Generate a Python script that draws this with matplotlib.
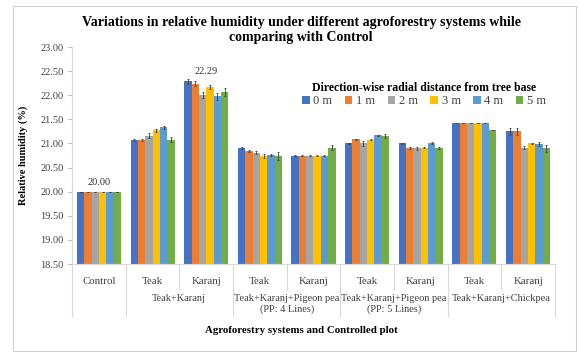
import matplotlib
matplotlib.use("Agg")
import matplotlib.pyplot as plt
import matplotlib.transforms as mtransforms
from matplotlib.patches import Rectangle
import numpy as np

plt.rcParams['font.family'] = ['Liberation Serif', 'DejaVu Serif']

# Sub-plot labels (level 1) and system labels (level 2)
categories = ["Control", "Teak", "Karanj", "Teak", "Karanj", "Teak", "Karanj", "Teak", "Karanj"]
systems = ["", "Teak+Karanj", "Teak+Karanj+Pigeon pea\n(PP: 4 Lines)",
           "Teak+Karanj+Pigeon pea\n(PP: 5 Lines)", "Teak+Karanj+Chickpea"]
system_spans = [(0, 0), (1, 2), (3, 4), (5, 6), (7, 8)]

distances = ["0 m", "1 m", "2 m", "3 m", "4 m", "5 m"]

# Relative humidity (%) per distance, one value per category
rh_0m = [20.00, 21.08, 22.29, 20.91, 20.75, 21.00, 21.00, 21.42, 21.25]
rh_1m = [20.00, 21.08, 22.24, 20.84, 20.75, 21.09, 20.91, 21.42, 21.25]
rh_2m = [20.00, 21.16, 22.00, 20.81, 20.75, 21.00, 20.90, 21.42, 20.91]
rh_3m = [20.00, 21.27, 22.17, 20.74, 20.75, 21.08, 20.91, 21.42, 21.00]
rh_4m = [20.00, 21.34, 21.98, 20.77, 20.75, 21.17, 21.00, 21.42, 20.99]
rh_5m = [20.00, 21.08, 22.07, 20.74, 20.91, 21.16, 20.91, 21.27, 20.90]

# Standard errors
se_0m = [0.00, 0.02, 0.05, 0.02, 0.01, 0.01, 0.01, 0.00, 0.08]
se_1m = [0.00, 0.02, 0.05, 0.02, 0.01, 0.01, 0.02, 0.00, 0.07]
se_2m = [0.00, 0.05, 0.06, 0.03, 0.01, 0.05, 0.03, 0.00, 0.03]
se_3m = [0.00, 0.03, 0.04, 0.04, 0.01, 0.01, 0.01, 0.00, 0.01]
se_4m = [0.00, 0.03, 0.07, 0.02, 0.01, 0.01, 0.02, 0.00, 0.05]
se_5m = [0.00, 0.05, 0.08, 0.08, 0.05, 0.04, 0.02, 0.00, 0.07]

series = [rh_0m, rh_1m, rh_2m, rh_3m, rh_4m, rh_5m]
errors = [se_0m, se_1m, se_2m, se_3m, se_4m, se_5m]
colors = ["#4472C4", "#ED7D31", "#A5A5A5", "#FFC000", "#5B9BD5", "#70AD47"]

fig = plt.figure(figsize=(5.79, 3.54), dpi=100)
fig.patches.append(Rectangle((0.022, 0.008), 0.972, 0.975, transform=fig.transFigure,
                             facecolor="white", edgecolor="#d0d0d0", linewidth=0.8, zorder=-10))

ax = fig.add_axes([0.1244, 0.2542, 0.8341, 0.6130])
ax.set_facecolor("none")

n = len(series)
x = np.arange(len(categories))
group_w = 0.82
bw = group_w / n
for i, (vals, err, c, lab) in enumerate(zip(series, errors, colors, distances)):
    pos = x - group_w / 2 + bw * (i + 0.5)
    ax.bar(pos, np.array(vals) - 18.5, bottom=18.5, width=bw, color=c, label=lab,
           yerr=err, error_kw=dict(ecolor="#404040", elinewidth=0.6, capsize=1.0, capthick=0.6),
           zorder=2)

# Value labels for the control and the Teak+Karanj Karanj highest reading
ax.text(x[0], rh_0m[0] + 0.1, f"{rh_0m[0]:.2f}", ha="center", va="bottom", fontsize=7.5, color="#333333")
ax.text(x[2], rh_0m[2] + 0.1, f"{rh_0m[2]:.2f}", ha="center", va="bottom", fontsize=7.5, color="#333333")

ax.set_ylim(18.5, 23.0)
ax.set_xlim(-0.5, len(categories) - 0.5)
ax.set_yticks(np.arange(18.5, 23.01, 0.5))
ax.set_yticklabels([f"{v:.2f}" for v in np.arange(18.5, 23.01, 0.5)], fontsize=7.5, color="#404040")
ax.tick_params(axis="y", length=3, color="#bfbfbf", pad=3)
ax.set_xticks(x)
ax.set_xticklabels(categories, fontsize=7.8, color="#404040")
ax.tick_params(axis="x", length=0, pad=9)
for s in ["top", "right"]:
    ax.spines[s].set_visible(False)
ax.spines["left"].set_color("#d9d9d9")
ax.spines["bottom"].set_color("#d9d9d9")
ax.spines["left"].set_linewidth(0.8)
ax.spines["bottom"].set_linewidth(0.8)

# Multi-level category axis separators and group labels
trans = mtransforms.blended_transform_factory(ax.transData, ax.transAxes)
short_y = -0.115
long_y = -0.24
bounds = [i - 0.5 for i in range(len(categories) + 1)]
long_bounds = {-0.5, 0.5, 2.5, 4.5, 6.5, 8.5}
for b in bounds:
    yb = long_y if b in long_bounds else short_y
    ax.plot([b, b], [0, yb], transform=trans, clip_on=False, color="#d9d9d9", lw=0.8)
for name, (a, b) in zip(systems, system_spans):
    if name:
        ax.text((a + b) / 2, -0.138, name, transform=trans, ha="center", va="top",
                fontsize=7.5, color="#404040", linespacing=1.2)

ax.set_ylabel("Relative humidity (%)", fontsize=7.5, fontweight="bold", labelpad=9)
fig.text(0.52, 0.066, "Agroforestry systems and Controlled plot", ha="center", va="center",
         fontsize=7.8, fontweight="bold")

fig.text(0.52, 0.937, "Variations in relative humidity under different agroforestry systems while",
         ha="center", va="center", fontsize=10, fontweight="bold")
fig.text(0.52, 0.893, "comparing with Control", ha="center", va="center", fontsize=10, fontweight="bold")

leg = ax.legend(loc="upper right", bbox_to_anchor=(1.0, 0.88), ncol=6, frameon=False,
                fontsize=9, handlelength=0.6, handleheight=0.6, handletextpad=0.3,
                columnspacing=1.0, borderpad=0.2, title="Direction-wise radial distance from tree base",
                title_fontproperties={"weight": "bold", "size": 8.5})
leg._legend_box.sep = 1
for t in leg.get_texts():
    t.set_color("#404040")

fig.savefig("out.png", dpi=100)
